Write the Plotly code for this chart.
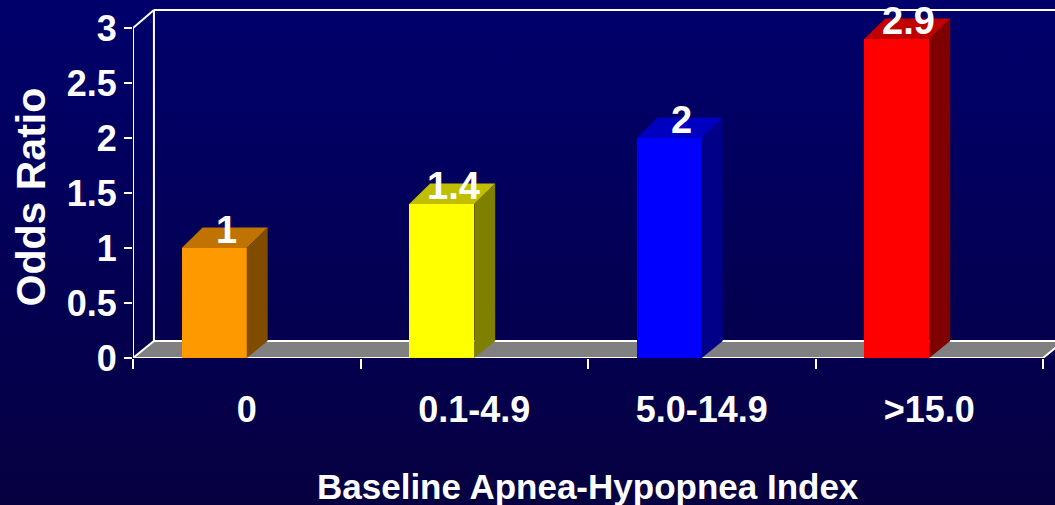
import base64
import plotly.graph_objects as go

# ---- data -------------------------------------------------------------
categories = ["0", "0.1-4.9", "5.0-14.9", ">15.0"]
odds_ratio = [1, 1.4, 2, 2.9]
y_tick_values = [0, 0.5, 1, 1.5, 2, 2.5, 3]
y_tick_labels = ["0", "0.5", "1", "1.5", "2", "2.5", "3"]

front_colors = ["#FF9900", "#FFFF00", "#0000FF", "#FF0000"]
top_colors = ["#C07300", "#BFBF00", "#0000C0", "#C00000"]
side_colors = ["#804C00", "#808000", "#000088", "#800000"]

# ---- pseudo-3D geometry (data units) ----------------------------------
BAR_W = 0.286          # bar front width, in category units
DEPTH_X = 0.092        # horizontal depth offset
FLOOR_DY = 0.155       # vertical depth offset of the floor
WALL_DY = 0.164        # vertical depth offset of the back wall top
BAR_DY = 0.186         # vertical depth offset of the bar tops
Y_MAX = 3

FONT = "Liberation Sans, Arial, Helvetica, sans-serif"

positions = list(range(len(categories)))
x_lo, x_hi = -0.5, len(categories) - 0.5

fig = go.Figure()

# front faces of the bars
fig.add_trace(go.Bar(
    x=positions, y=odds_ratio, width=BAR_W, offset=-BAR_W,
    marker=dict(color=front_colors, line=dict(width=0)),
    hoverinfo="skip", showlegend=False,
))

# side and top faces
for c, v, sc, tc in zip(positions, odds_ratio, side_colors, top_colors):
    fig.add_trace(go.Scatter(
        x=[c, c + DEPTH_X, c + DEPTH_X, c, c],
        y=[0, FLOOR_DY, v + BAR_DY, v, 0],
        mode="lines", fill="toself", fillcolor=sc, line=dict(width=0),
        hoverinfo="skip", showlegend=False,
    ))
    fig.add_trace(go.Scatter(
        x=[c - BAR_W, c, c + DEPTH_X, c - BAR_W + DEPTH_X, c - BAR_W],
        y=[v, v, v + BAR_DY, v + BAR_DY, v],
        mode="lines", fill="toself", fillcolor=tc, line=dict(width=0),
        hoverinfo="skip", showlegend=False,
    ))

# value labels above each bar
for c, v in zip(positions, odds_ratio):
    fig.add_annotation(
        x=c - BAR_W / 2 + DEPTH_X / 2 + 0.006, y=v, xref="x", yref="y",
        text=f"{v:g}", showarrow=False, yanchor="bottom", yshift=-4,
        borderpad=0,
        font=dict(family=FONT, size=38, color="white", weight="bold"),
    )

# floor and walls
white = dict(color="white", width=2)
shapes = [
    dict(type="path", xref="x", yref="y", layer="below",
         path=(f"M {x_lo},0 L {x_hi},0 L {x_hi + DEPTH_X},{FLOOR_DY} "
               f"L {x_lo + DEPTH_X},{FLOOR_DY} Z"),
         fillcolor="#808080", line=white),
    dict(type="line", xref="x", yref="y", layer="below",
         x0=x_lo, y0=0, x1=x_lo, y1=Y_MAX, line=white),
    dict(type="line", xref="x", yref="y", layer="below",
         x0=x_lo, y0=Y_MAX, x1=x_lo + DEPTH_X, y1=Y_MAX + WALL_DY, line=white),
    dict(type="line", xref="x", yref="y", layer="below",
         x0=x_lo + DEPTH_X, y0=FLOOR_DY, x1=x_lo + DEPTH_X, y1=Y_MAX + WALL_DY,
         line=white),
    dict(type="line", xref="x", yref="y", layer="below",
         x0=x_lo + DEPTH_X, y0=Y_MAX + WALL_DY, x1=x_hi + DEPTH_X,
         y1=Y_MAX + WALL_DY, line=white),
]

# axis titles
fig.add_annotation(
    x=1.5, y=-0.365, xref="x", yref="paper", yanchor="middle",
    text="Baseline Apnea-Hypopnea Index", showarrow=False,
    font=dict(family=FONT, size=35, color="white", weight="bold"),
)
fig.add_annotation(
    x=-0.1106, y=1.46, xref="paper", yref="y", textangle=-90,
    xanchor="center", yanchor="middle",
    text="Odds Ratio", showarrow=False,
    font=dict(family=FONT, size=41, color="white", weight="bold"),
)

# vertical navy gradient behind everything
svg = (
    '<svg xmlns="http://www.w3.org/2000/svg" width="10" height="100" '
    'viewBox="0 0 10 100" preserveAspectRatio="none">'
    '<defs><linearGradient id="g" x1="0" y1="0" x2="0" y2="1">'
    '<stop offset="0" stop-color="#00006C"/>'
    '<stop offset="1" stop-color="#060040"/>'
    '</linearGradient></defs>'
    '<rect x="0" y="0" width="10" height="100" fill="url(#g)"/></svg>'
)
bg_src = "data:image/svg+xml;base64," + base64.b64encode(svg.encode()).decode()

W, H = 1055, 505
M_L, M_R, M_T, M_B = 133, 0, 6, 147
plot_w, plot_h = W - M_L - M_R, H - M_T - M_B

fig.update_layout(
    width=W, height=H,
    margin=dict(l=M_L, r=M_R, t=M_T, b=M_B, pad=0),
    paper_bgcolor="#030056", plot_bgcolor="rgba(0,0,0,0)",
    shapes=shapes,
    images=[dict(
        source=bg_src, xref="paper", yref="paper",
        x=-M_L / plot_w, y=1 + M_T / plot_h,
        sizex=W / plot_w, sizey=H / plot_h,
        xanchor="left", yanchor="top", sizing="stretch", layer="below",
    )],
    xaxis=dict(
        range=[x_lo, x_hi + 12 / 227.5],
        tickmode="array", tickvals=positions, ticktext=categories,
        ticks="", showgrid=False, zeroline=False, showline=False,
        tickfont=dict(family=FONT, size=36, color="white", weight="bold"),
        ticklabelstandoff=27,
        minor=dict(ticks="outside", tickmode="array",
                   tickvals=[p - 0.5 for p in positions] + [x_hi],
                   ticklen=10, tickwidth=2, tickcolor="white", showgrid=False),
    ),
    yaxis=dict(
        range=[0, 3.2],
        tickmode="array", tickvals=y_tick_values, ticktext=y_tick_labels,
        ticks="outside", ticklen=8, tickwidth=2, tickcolor="white",
        showgrid=False, zeroline=False, showline=False,
        tickfont=dict(family=FONT, size=36, color="white", weight="bold"),
        ticklabelstandoff=0,
    ),
    bargap=0,
)

fig.write_html("out.html")
